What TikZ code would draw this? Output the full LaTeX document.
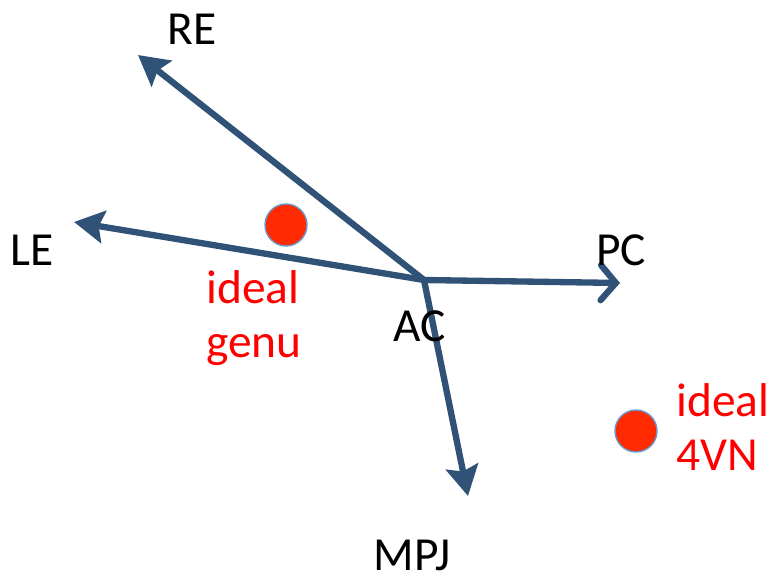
\documentclass[tikz,border=0pt]{standalone}
\usepackage{fontspec}
\setmainfont{Carlito}
\usetikzlibrary{arrows.meta, positioning}
\definecolor{cnavy}{HTML}{2F5276}
\definecolor{cdot}{HTML}{FF2A00}
\definecolor{cring}{HTML}{6A98CC}
\tikzset{
  every picture/.style={font=\fontsize{27}{31}\selectfont},
  axis/.style={draw=cnavy, line width=3.6pt},
  filledtip/.style={axis, -{Stealth[length=6mm, width=6.5mm, inset=1mm]}},
  opentip/.style={axis, -{Straight Barb[length=3mm, width=7mm, line cap=round]}},
  lbl/.style={text=black, inner sep=0pt},
  redlbl/.style={text=red, align=left, inner sep=0pt},
  spot/.style={circle, fill=cdot, draw=cring, line width=0.8pt, minimum size=0.84cm, inner sep=0pt},
}

\begin{document}
\begin{tikzpicture}[x=0.02cm, y=-0.02cm]
  \useasboundingbox (0,0) rectangle (771,584);
  % anatomical directions from AC
  \coordinate (ac) at (424,280);
  \coordinate (reTip) at (138,55);
  \coordinate (leTip) at (74,222);
  \coordinate (pcTip) at (620,283);
  \coordinate (mpjTip) at (468,496);
  \draw[filledtip] (ac) -- (reTip);
  \draw[filledtip] (ac) -- (leTip);
  \draw[opentip] (ac) -- (pcTip);
  \draw[filledtip] (ac) -- (mpjTip);
  \node[lbl] (re) at (192,29) {RE};
  \node[lbl] (le) at (32,250) {LE};
  \node[lbl] (pc) at (621,250) {PC};
  \node[lbl] (acl) at (420,326) {AC};
  \node[lbl] (mpj) at (412,555) {MPJ};
  % targets
  \node[spot] (genu) at (286,225) {};
  \node[spot] (vn) at (636,431) {};
  \node[redlbl, anchor=north west] (genuLbl) at (206,270) {ideal\\genu};
  \node[redlbl, anchor=north west] (vnLbl) at (676,383) {ideal\\4VN};
\end{tikzpicture}
\end{document}
